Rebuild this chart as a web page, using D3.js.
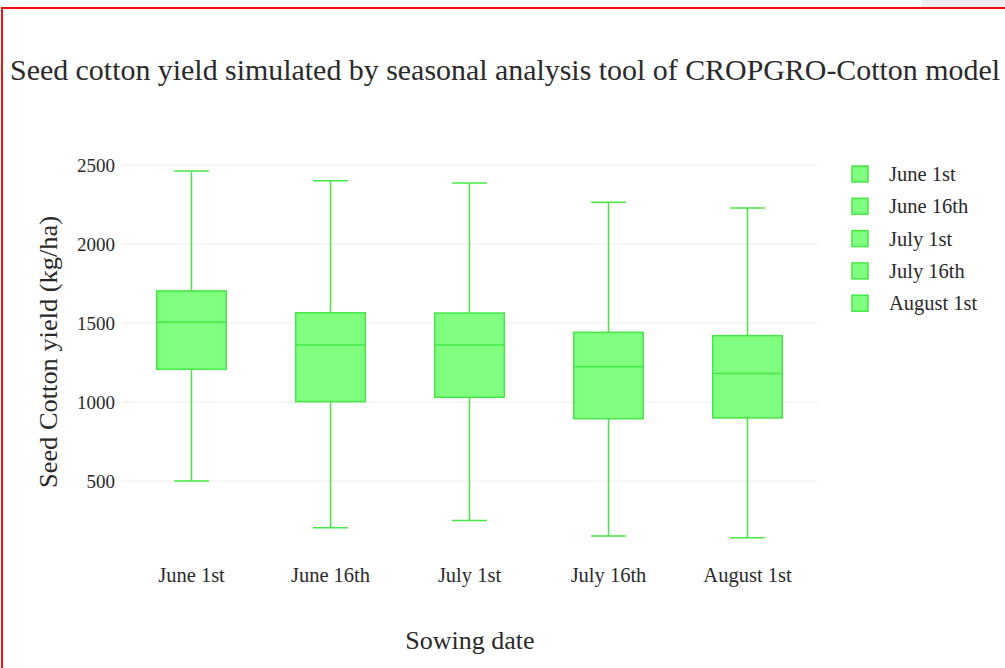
<!DOCTYPE html>
<html>
<head>
<meta charset="utf-8">
<script src="https://cdn.jsdelivr.net/npm/d3@7"></script>
<style>
  body { margin: 0; background: #fff; }
  svg { display: block; }
</style>
</head>
<body>
<div class="graph"></div>
<script>
// sowing dates and their box stats (kg/ha)
var dates = ["June 1st", "June 16th", "July 1st", "July 16th", "August 1st"];
var lowWhisker = [500, 204, 250, 152, 141];
var q1 = [1207, 1002, 1030, 894, 899];
var medians = [1504, 1361, 1361, 1223, 1181];
var q3 = [1703, 1565, 1563, 1441, 1420];
var highWhisker = [2462, 2401, 2386, 2264, 2228];
var yTicks = [500, 1000, 1500, 2000, 2500];

var w = 1005, h = 668;
var stroke = "#45e845", fill = "#80ff80";
var serif = "'Liberation Serif', 'Times New Roman', serif";
var ink = "#2a2a2a";

var boxes = dates.map(function(d, i) {
  return {date: d, lo: lowWhisker[i], q1: q1[i], med: medians[i], q3: q3[i], hi: highWhisker[i]};
});

var svg = d3.select(".graph").append("svg")
  .attr("width", w)
  .attr("height", h);

// frame like the screenshot
svg.append("rect").attr("x", 922).attr("y", 0).attr("width", 83).attr("height", 7).attr("fill", "#eeeeee");
svg.append("rect").attr("x", 2).attr("y", 8).attr("width", 1010).attr("height", 670)
  .attr("fill", "none").attr("stroke", "#ee1111").attr("stroke-width", 2);

var x = d3.scaleBand().domain(dates).range([122, 817]).paddingInner(0).paddingOuter(0);
var y = d3.scaleLinear().domain([0, 2500]).range([560, 165]);

// grid
svg.append("g").selectAll("line")
  .data(yTicks)
  .enter().append("line")
    .attr("x1", 122).attr("x2", 818)
    .attr("y1", function(d) { return y(d); })
    .attr("y2", function(d) { return y(d); })
    .attr("stroke", "#eeeeee").attr("stroke-width", 1);

// y axis labels
var yAxis = svg.append("g")
  .attr("transform", "translate(119,0)")
  .call(d3.axisLeft(y).tickValues(yTicks).tickSize(0).tickPadding(4).tickFormat(d3.format("d")));
yAxis.select(".domain").remove();
yAxis.selectAll("text").attr("font-family", serif).attr("font-size", "19px").attr("fill", ink);

// x axis labels
var xAxis = svg.append("g")
  .attr("transform", "translate(0,567)")
  .call(d3.axisBottom(x).tickSize(0).tickPadding(0));
xAxis.select(".domain").remove();
xAxis.selectAll("text").attr("font-family", serif).attr("font-size", "20.5px").attr("fill", ink);

var bw = x.bandwidth() * 0.5;
var g = svg.append("g").selectAll("g")
  .data(boxes)
  .enter().append("g")
    .attr("transform", function(d) { return "translate(" + (x(d.date) + x.bandwidth() / 2) + ",0)"; });

g.append("line").attr("x1", 0).attr("x2", 0)
  .attr("y1", function(d) { return y(d.hi); }).attr("y2", function(d) { return y(d.q3); })
  .attr("stroke", stroke).attr("stroke-width", 1.5);
g.append("line").attr("x1", 0).attr("x2", 0)
  .attr("y1", function(d) { return y(d.q1); }).attr("y2", function(d) { return y(d.lo); })
  .attr("stroke", stroke).attr("stroke-width", 1.5);
g.append("line").attr("x1", -bw / 4).attr("x2", bw / 4)
  .attr("y1", function(d) { return y(d.hi); }).attr("y2", function(d) { return y(d.hi); })
  .attr("stroke", stroke).attr("stroke-width", 1.5);
g.append("line").attr("x1", -bw / 4).attr("x2", bw / 4)
  .attr("y1", function(d) { return y(d.lo); }).attr("y2", function(d) { return y(d.lo); })
  .attr("stroke", stroke).attr("stroke-width", 1.5);
g.append("rect")
  .attr("x", -bw / 2).attr("width", bw)
  .attr("y", function(d) { return y(d.q3); })
  .attr("height", function(d) { return y(d.q1) - y(d.q3); })
  .attr("fill", fill).attr("stroke", stroke).attr("stroke-width", 1.5);
g.append("line").attr("x1", -bw / 2).attr("x2", bw / 2)
  .attr("y1", function(d) { return y(d.med); }).attr("y2", function(d) { return y(d.med); })
  .attr("stroke", stroke).attr("stroke-width", 1.5);

// legend
var legend = svg.append("g").selectAll("g")
  .data(dates)
  .enter().append("g")
    .attr("transform", function(d, i) { return "translate(852," + (166 + i * 32.3) + ")"; });
legend.append("rect").attr("width", 16).attr("height", 16)
  .attr("fill", fill).attr("stroke", stroke).attr("stroke-width", 1.5);
legend.append("text").attr("x", 37).attr("y", 15)
  .attr("font-family", serif).attr("font-size", "20.5px").attr("fill", ink)
  .text(function(d) { return d; });

// titles
svg.append("text").attr("x", 10).attr("y", 80)
  .attr("font-family", serif).attr("font-size", "30px").attr("fill", ink)
  .attr("textLength", 990).attr("lengthAdjust", "spacingAndGlyphs")
  .text("Seed cotton yield simulated by seasonal analysis tool of CROPGRO-Cotton model");
svg.append("text").attr("x", 470).attr("y", 649).attr("text-anchor", "middle")
  .attr("font-family", serif).attr("font-size", "26px").attr("fill", ink)
  .text("Sowing date");
svg.append("text").attr("transform", "translate(57,352) rotate(-90)").attr("text-anchor", "middle")
  .attr("font-family", serif).attr("font-size", "25px").attr("fill", ink)
  .attr("textLength", 272).attr("lengthAdjust", "spacingAndGlyphs")
  .text("Seed Cotton yield (kg/ha)");
</script>
</body>
</html>
